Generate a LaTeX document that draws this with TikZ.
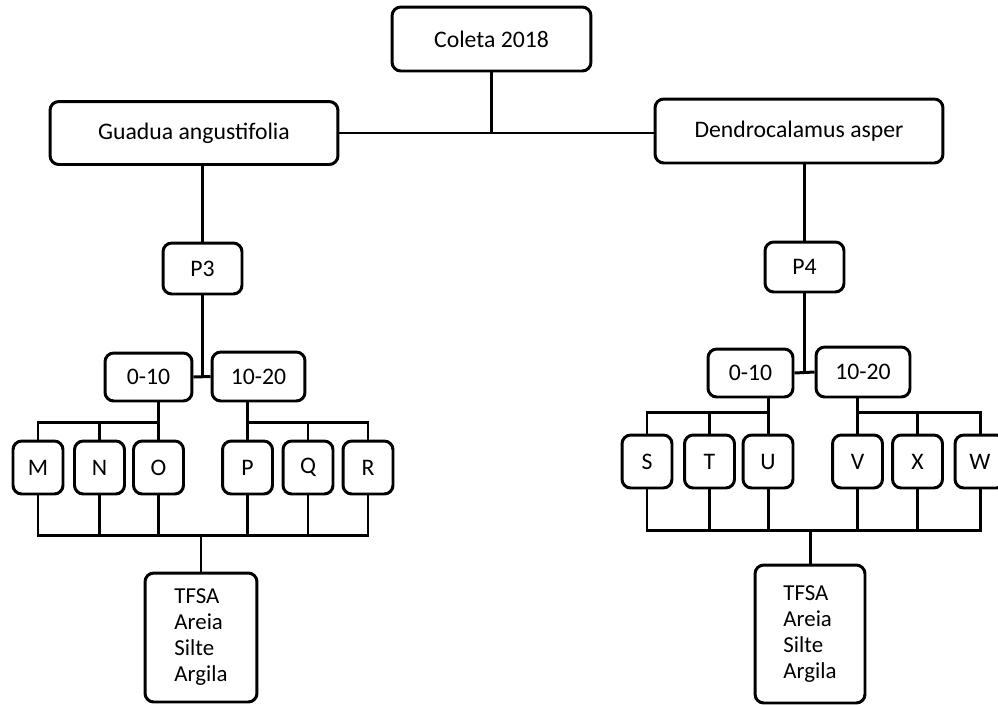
\documentclass[tikz,border=0pt]{standalone}
\usepackage{fontspec}
\setmainfont{Carlito}
\usepackage{tikz}
\usetikzlibrary{positioning}

\begin{document}
\begin{tikzpicture}[x=0.02cm, y=-0.02cm, line width=1.7pt,
    box/.style={draw, rounded corners=5pt, inner sep=0pt, align=center,
      font=\fontsize{13.5}{14.8}\selectfont},
    leaf/.style={box, minimum width=1.0cm, minimum height=1.06cm},
    soil/.style={box, align=left, font=\fontsize{13}{14.8}\selectfont}]
   \useasboundingbox (0,0) rectangle (998,704);
   \node[box, minimum width=3.98cm, minimum height=1.28cm] (coleta) at (491.5,39) {Coleta 2018};
   \node[box, minimum width=5.76cm, minimum height=1.26cm] (guadua) at (194,133) {Guadua angustifolia};
   \node[box, minimum width=5.76cm, minimum height=1.28cm] (dendro) at (799,131) {Dendrocalamus asper};
   \node[box, minimum width=1.58cm, minimum height=1.02cm] (p3) at (202.5,268.5) {P3};
   \node[box, minimum width=1.58cm, minimum height=1.0cm] (p4) at (804.5,267) {P4};
   \node[box, minimum width=1.74cm, minimum height=0.96cm] (ga010) at (148.5,377) {0-10};
   \node[box, minimum width=1.86cm, minimum height=0.98cm] (ga1020) at (258.5,376.5) {10-20};
   \node[box, minimum width=1.70cm, minimum height=0.96cm] (da010) at (750.5,373) {0-10};
   \node[box, minimum width=1.88cm, minimum height=1.0cm] (da1020) at (863,372) {10-20};
   \node[leaf] (m) at (38,467.5) {M};
   \node[leaf] (n) at (99.5,467.5) {N};
   \node[leaf] (o) at (158.5,467.5) {O};
   \node[leaf] (p) at (247.5,467.5) {P};
   \node[leaf] (q) at (308,467.5) {Q};
   \node[leaf] (r) at (368,467.5) {R};
   \node[leaf] (s) at (647,461.5) {S};
   \node[leaf] (t) at (709.5,461.5) {T};
   \node[leaf] (u) at (768,461.5) {U};
   \node[leaf] (v) at (857.5,461.5) {V};
   \node[leaf] (x) at (917.5,461.5) {X};
   \node[leaf] (w) at (980,461.5) {W};
   \node[soil, minimum width=2.24cm, minimum height=2.58cm] (gtfsa) at (201,637.5) {TFSA\\Areia\\Silte\\Argila};
   \node[soil, minimum width=2.2cm, minimum height=2.76cm] (dtfsa) at (810,634) {TFSA\\Areia\\Silte\\Argila};
   \coordinate (gbusa) at (0,422);
   \coordinate (gbusb) at (0,535);
   \coordinate (dbusa) at (0,412);
   \coordinate (dbusb) at (0,530);
   \draw (guadua.east) -- (guadua.east -| dendro.west);
   \draw (coleta.south) -- (coleta.south |- guadua.east);
   \draw (p3.north) -- (p3.north |- guadua.south);
   \draw (p4.north) -- (p4.north |- dendro.south);
   \draw (ga010.east) -- (ga1020.west);
   \draw (p3.south) -- (p3.south |- ga010.east);
   \draw (da010.east) -- (da1020.west);
   \draw (p4.south) -- (p4.south |- da010.east);
   \foreach \c in {m,n,o}
     \draw (\c.north) -- (\c.north |- gbusa) -| (o.north |- ga010.south);
   \foreach \c in {p,q,r}
     \draw (\c.north) -- (\c.north |- gbusa) -| (p.north |- ga1020.south);
   \foreach \c in {s,t,u}
     \draw (\c.north) -- (\c.north |- dbusa) -| (u.north |- da010.south);
   \foreach \c in {v,x,w}
     \draw (\c.north) -- (\c.north |- dbusa) -| (v.north |- da1020.south);
   \foreach \c in {m,n,o,p,q,r}
     \draw (\c.south) -- (\c.south |- gbusb) -| (gtfsa.north);
   \foreach \c in {s,t,u,v,x,w}
     \draw (\c.south) -- (\c.south |- dbusb) -| (dtfsa.north);
\end{tikzpicture}
\end{document}
